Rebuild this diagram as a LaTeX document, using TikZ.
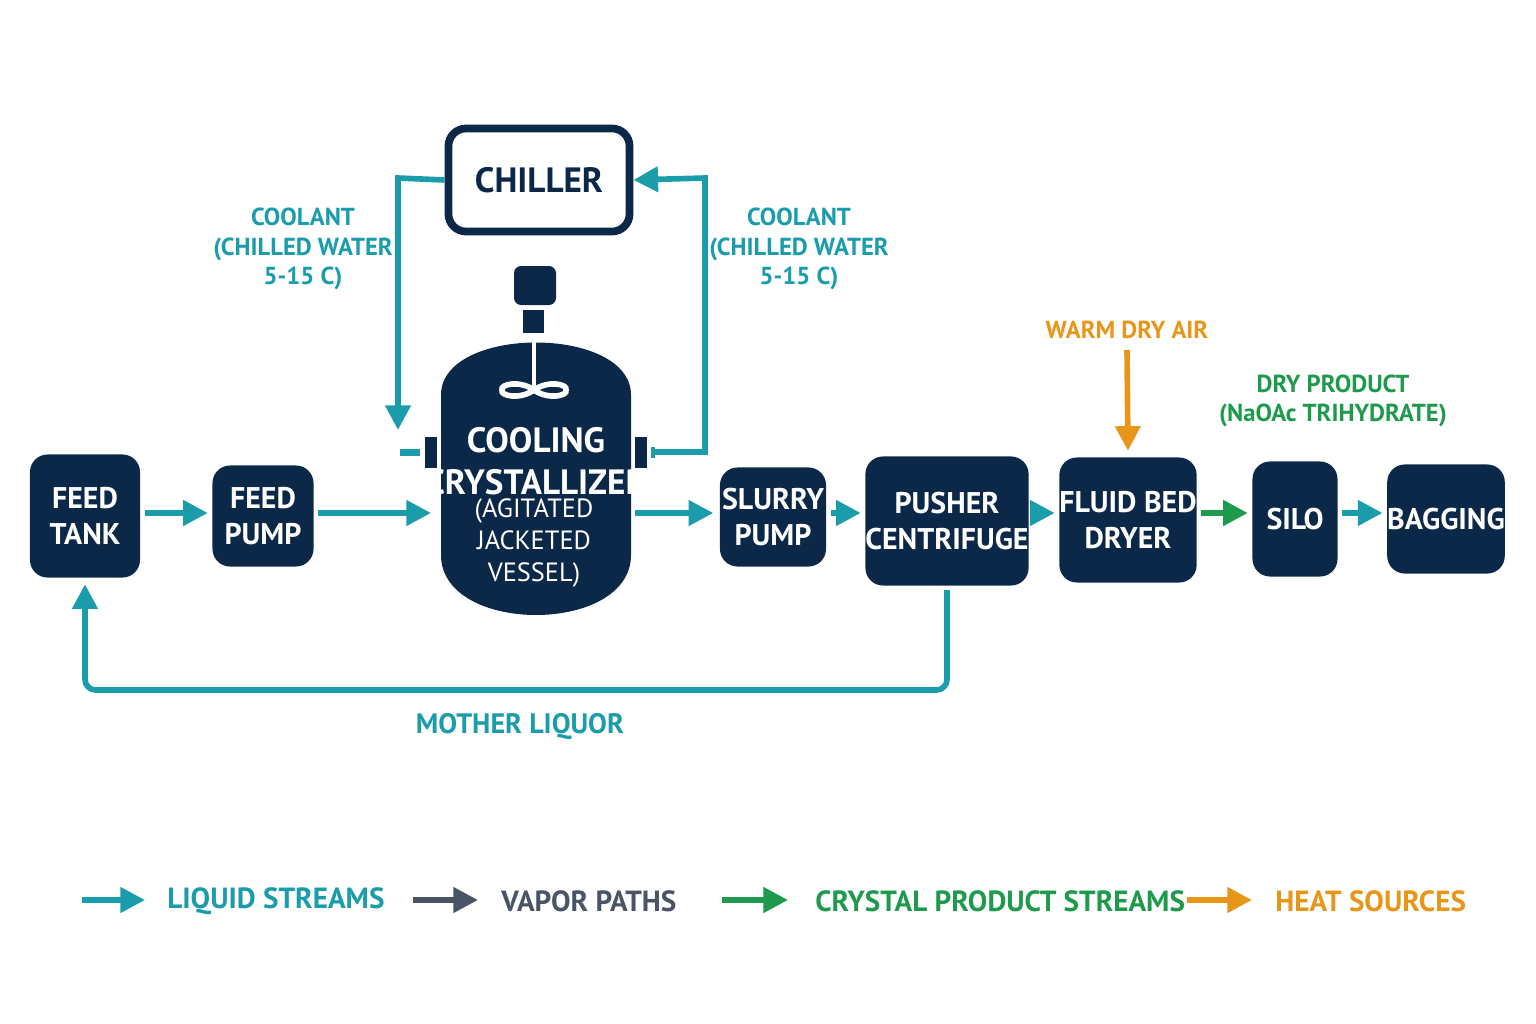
\documentclass[tikz,border=0pt]{standalone}
\usepackage{fontspec}
\setmainfont{PT Sans}
\usetikzlibrary{arrows.meta,calc}
\tikzset{>={Triangle[length=7pt,width=7pt]}}
\definecolor{navy}{HTML}{0B2848}
\definecolor{teal}{HTML}{1A9CAA}
\definecolor{grn}{HTML}{1E9A4C}
\definecolor{orng}{HTML}{E8961A}
\definecolor{slate}{HTML}{4A5466}
\tikzset{
  unit/.style={fill=navy,rounded corners=5pt,text=white,font=\bfseries\fontsize{8.5}{10}\selectfont,align=center,inner sep=0pt},
  liquid/.style={draw=teal,line width=1.6pt,->},
  lbl/.style={font=\bfseries\fontsize{7}{8.4}\selectfont,align=center},
  legtxt/.style={font=\bfseries\fontsize{8.3}{10}\selectfont,anchor=west}
}

\begin{document}
\begin{tikzpicture}[x=0.01cm,y=-0.01cm]
\useasboundingbox (0,0) rectangle (1536,1024);
% process units (sizes in 0.1mm = 1px)
\node[unit,minimum width=11mm,minimum height=12.3mm] (tank) at (85,516) {FEED\\TANK};
\node[unit,minimum width=10.1mm,minimum height=10.1mm] (fpump) at (263,516) {FEED\\PUMP};
\node[unit,minimum width=10.6mm,minimum height=9.9mm] (spump) at (773,517) {SLURRY\\PUMP};
\node[unit,minimum width=13.7mm,minimum height=12.9mm] (cent) at (947,521) {PUSHER\\CENTRIFUGE};
\node[unit,minimum width=12.4mm,minimum height=12.5mm] (dryer) at (1128,520) {FLUID BED\\DRYER};
\node[unit,minimum width=8.5mm,minimum height=11.5mm] (silo) at (1295,519) {SILO};
\node[unit,minimum width=10.3mm,minimum height=10.9mm] (bag) at (1446,519) {BAGGING};
\node[draw=navy,line width=2.2pt,rounded corners=5pt,minimum width=18.1mm,minimum height=10.3mm,font=\bfseries\fontsize{10}{12}\selectfont,text=navy] (chiller) at (539,180) {CHILLER};
% crystallizer vessel
\fill[navy] (441,395) .. controls (441,325) and (631,325) .. (631,395) -- (631,555) .. controls (631,635) and (441,635) .. (441,555) -- cycle;
\node[text=white,font=\bfseries\fontsize{10}{12}\selectfont,align=center] (cryst) at (536,461) {COOLING\\CRYSTALLIZER};
\node[text=white,font=\fontsize{7.5}{9}\selectfont,align=center] (cnote) at (534,543) {(AGITATED\\JACKETED\\VESSEL)};
\coordinate (cin) at (441,513);
\coordinate (cout) at (631,513);
\fill[navy,rounded corners=2pt] (514,266) rectangle (556,305);
\fill[navy] (523,310) rectangle (544,333);
\draw[white,line width=1pt] (534,340) -- (534,388);
\draw[white,line width=1.6pt] (534,390) .. controls (520,380) and (500,384) .. (502,390) .. controls (500,396) and (520,400) .. (534,390) .. controls (548,380) and (568,384) .. (566,390) .. controls (568,396) and (548,400) .. (534,390);
\fill[navy] (425,437) rectangle (437,468);
\fill[navy] (635,437) rectangle (647,468);
\fill[teal] (400,449) rectangle (420,456);
\fill[teal] (651,447) rectangle (655,458);
% coolant loop
\draw[liquid] (chiller.west) -- (398,178) -- (398,430);
\draw[liquid] (655,452) -- (705,452) -- (705,178) -- (chiller.east);
\node[lbl,text=teal] (cool1) at (303,249) {COOLANT\\(CHILLED WATER\\5-15 C)};
\node[lbl,text=teal] (cool2) at (799,249) {COOLANT\\(CHILLED WATER\\5-15 C)};
% main line
\draw[liquid] ($(tank.east)+(4,-3)$) -- ($(fpump.west)+(-4,-3)$);
\draw[liquid] ($(fpump.east)+(4,-3)$) -- ($(cin)+(-10,0)$);
\draw[liquid] ($(cout)+(4,0)$) -- ($(spump.west)+(-6,-4)$);
\draw[liquid] ($(spump.east)+(4,-4)$) -- ($(cent.west)+(-4,-8)$);
\draw[liquid] ($(cent.east)+(4,-8)$) -- ($(dryer.west)+(-4,-7)$);
\draw[draw=grn,line width=1.6pt,->] ($(dryer.east)+(4,-7)$) -- ($(silo.west)+(-4,-6)$);
\draw[liquid] ($(silo.east)+(4,-6)$) -- ($(bag.west)+(-4,-6)$);
% mother liquor
\draw[liquid,rounded corners=3pt] ($(cent.south)+(0,4)$) -- (947,690) -- (85,690) -- ($(tank.south)+(0,6)$);
\node[lbl,text=teal,font=\bfseries\fontsize{8}{9}\selectfont] (ml) at (520,726) {MOTHER LIQUOR};
% dryer air and product
\node[lbl,text=orng] (air) at (1127,330) {WARM DRY AIR};
\draw[draw=orng,line width=1.6pt,->] (1127,350) -- ($(dryer.north)+(0,-6)$);
\node[lbl,text=grn] (prod) at (1333,401) {DRY PRODUCT\\(NaOAc TRIHYDRATE)};
% legend
\draw[liquid] (82,900) -- (145,900);
\node[legtxt,text=teal] (l1) at (155,901) {LIQUID STREAMS};
\draw[draw=slate,line width=1.6pt,->] (413,900) -- (478,900);
\node[legtxt,text=slate] (l2) at (489,901) {VAPOR PATHS};
\draw[draw=grn,line width=1.6pt,->] (722,900) -- (788,900);
\node[legtxt,text=grn] (l3) at (803,901) {CRYSTAL PRODUCT STREAMS};
\draw[draw=orng,line width=1.6pt,->] (1187,900) -- (1252,900);
\node[legtxt,text=orng] (l4) at (1263,901) {HEAT SOURCES};
\end{tikzpicture}
\end{document}
